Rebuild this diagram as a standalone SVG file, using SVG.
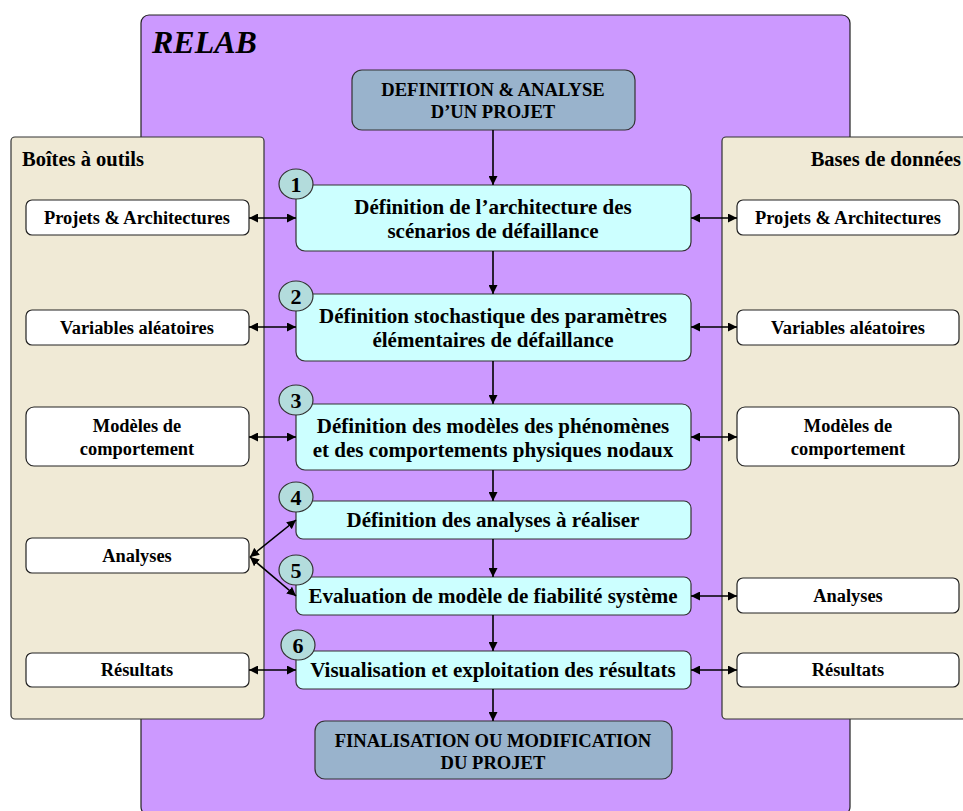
<svg xmlns="http://www.w3.org/2000/svg" width="963" height="811" viewBox="0 0 963 811">
<defs>
<marker id="ah" viewBox="0 0 10 10" refX="10" refY="5" markerWidth="9" markerHeight="9" markerUnits="userSpaceOnUse" orient="auto-start-reverse">
<path d="M0,0 L10,5 L0,10 z" fill="#000"/>
</marker>
<style>
.t{font-family:"Liberation Serif","Times New Roman",serif;font-weight:bold;fill:#000;text-anchor:middle}
.side{fill:#fff;stroke:#222;stroke-width:1.2}
.step{fill:#ccffff;stroke:#333;stroke-width:1.2}
.slate{fill:#99b3cc;stroke:#333;stroke-width:1.2}
.circ{fill:#b3dcdc;stroke:#333;stroke-width:1.2}
.panel{fill:#f0ead6;stroke:#333;stroke-width:1.2}
.c line,.c path{stroke:#000;stroke-width:1.6;fill:none}
.s14{font-size:18.4px}
.s17{font-size:21px}
.sd{font-size:18.6px}
.num{font-size:22px}
</style>
</defs>
<rect width="963" height="811" fill="#fff"/>
<g id="relab">
<rect x="141" y="15" width="709" height="800" rx="8" fill="#cc99ff" stroke="#222" stroke-width="1.2"/>
<text x="152" y="53" style="font-family:'Liberation Serif','Times New Roman',serif;font-weight:bold;font-style:italic;font-size:32px">RELAB</text>
</g>
<g id="toolbox">
<rect class="panel" x="11" y="137" width="253" height="582" rx="4"/>
<text x="22" y="166" style="font-family:'Liberation Serif','Times New Roman',serif;font-weight:bold;font-size:20.5px">Boîtes à outils</text>
</g>
<g id="databases">
<rect class="panel" x="722" y="137" width="260" height="582" rx="4"/>
<text x="961" y="166" text-anchor="end" style="font-family:'Liberation Serif','Times New Roman',serif;font-weight:bold;font-size:20.5px">Bases de données</text>
</g>
<g id="start">
<rect class="slate" x="352" y="70" width="283" height="60" rx="10"/>
<text class="t sd" x="493" y="96">DEFINITION &amp; ANALYSE</text>
<text class="t sd" x="493" y="118">D’UN PROJET</text>
</g>
<g id="step1">
<rect class="step" x="296" y="185" width="395" height="66" rx="9"/>
<text class="t s17" x="493" y="214">Définition de l’architecture des</text>
<text class="t s17" x="493" y="238">scénarios de défaillance</text>
<ellipse class="circ" cx="296" cy="184" rx="17" ry="15"/>
<text class="t num" x="296" y="192">1</text>
</g>
<g id="step2">
<rect class="step" x="296" y="294" width="395" height="67" rx="9"/>
<text class="t s17" x="493" y="323">Définition stochastique des paramètres</text>
<text class="t s17" x="493" y="347">élémentaires de défaillance</text>
<ellipse class="circ" cx="296" cy="296" rx="17" ry="15"/>
<text class="t num" x="296" y="304">2</text>
</g>
<g id="step3">
<rect class="step" x="296" y="404" width="395" height="66" rx="9"/>
<text class="t s17" x="493" y="433">Définition des modèles des phénomènes</text>
<text class="t s17" x="493" y="457">et des comportements physiques nodaux</text>
<ellipse class="circ" cx="296" cy="400" rx="17" ry="15"/>
<text class="t num" x="296" y="408">3</text>
</g>
<g id="step4">
<rect class="step" x="296" y="501" width="395" height="38" rx="7"/>
<text class="t s17" x="493" y="527">Définition des analyses à réaliser</text>
<ellipse class="circ" cx="296" cy="497" rx="17" ry="15"/>
<text class="t num" x="296" y="505">4</text>
</g>
<g id="step5">
<rect class="step" x="296" y="577" width="395" height="38" rx="7"/>
<text class="t s17" x="493" y="603">Evaluation de modèle de fiabilité système</text>
<ellipse class="circ" cx="296" cy="570" rx="17" ry="15"/>
<text class="t num" x="296" y="578">5</text>
</g>
<g id="step6">
<rect class="step" x="296" y="651" width="395" height="38" rx="7"/>
<text class="t s17" x="493" y="677">Visualisation et exploitation des résultats</text>
<ellipse class="circ" cx="298" cy="645" rx="17" ry="15"/>
<text class="t num" x="298" y="653">6</text>
</g>
<g id="end">
<rect class="slate" x="315" y="721" width="357" height="58" rx="10"/>
<text class="t sd" x="493" y="747">FINALISATION OU MODIFICATION</text>
<text class="t sd" x="493" y="769">DU PROJET</text>
</g>
<g id="tb-projets"><rect class="side" x="26" y="200" width="223" height="35" rx="6"/><text class="t s14" x="137" y="224">Projets &amp; Architectures</text></g>
<g id="tb-variables"><rect class="side" x="26" y="310" width="223" height="35" rx="6"/><text class="t s14" x="137" y="334">Variables aléatoires</text></g>
<g id="tb-modeles"><rect class="side" x="26" y="407" width="223" height="59" rx="8"/><text class="t s14" x="137" y="432">Modèles de</text><text class="t s14" x="137" y="455">comportement</text></g>
<g id="tb-analyses"><rect class="side" x="26" y="538" width="223" height="35" rx="6"/><text class="t s14" x="137" y="562">Analyses</text></g>
<g id="tb-resultats"><rect class="side" x="26" y="653" width="223" height="34" rx="6"/><text class="t s14" x="137" y="676">Résultats</text></g>
<g id="db-projets"><rect class="side" x="737" y="200" width="222" height="35" rx="6"/><text class="t s14" x="848" y="224">Projets &amp; Architectures</text></g>
<g id="db-variables"><rect class="side" x="737" y="310" width="222" height="35" rx="6"/><text class="t s14" x="848" y="334">Variables aléatoires</text></g>
<g id="db-modeles"><rect class="side" x="737" y="407" width="222" height="59" rx="8"/><text class="t s14" x="848" y="432">Modèles de</text><text class="t s14" x="848" y="455">comportement</text></g>
<g id="db-analyses"><rect class="side" x="737" y="578" width="222" height="35" rx="6"/><text class="t s14" x="848" y="602">Analyses</text></g>
<g id="db-resultats"><rect class="side" x="737" y="653" width="222" height="34" rx="6"/><text class="t s14" x="848" y="676">Résultats</text></g>
<g id="connectors" class="c">
<line x1="493" y1="130" x2="493" y2="185" marker-end="url(#ah)"/>
<line x1="493" y1="251" x2="493" y2="294" marker-end="url(#ah)"/>
<line x1="493" y1="361" x2="493" y2="404" marker-end="url(#ah)"/>
<line x1="493" y1="470" x2="493" y2="501" marker-end="url(#ah)"/>
<line x1="493" y1="539" x2="493" y2="577" marker-end="url(#ah)"/>
<line x1="493" y1="615" x2="493" y2="651" marker-end="url(#ah)"/>
<line x1="493" y1="689" x2="493" y2="721" marker-end="url(#ah)"/>
<line x1="249" y1="218" x2="296" y2="218" marker-start="url(#ah)" marker-end="url(#ah)"/>
<line x1="249" y1="327" x2="296" y2="327" marker-start="url(#ah)" marker-end="url(#ah)"/>
<line x1="249" y1="437" x2="296" y2="437" marker-start="url(#ah)" marker-end="url(#ah)"/>
<line x1="250" y1="557" x2="296" y2="520" marker-start="url(#ah)" marker-end="url(#ah)"/>
<line x1="250" y1="557" x2="296" y2="596" marker-start="url(#ah)" marker-end="url(#ah)"/>
<line x1="249" y1="670" x2="296" y2="670" marker-start="url(#ah)" marker-end="url(#ah)"/>
<line x1="691" y1="218" x2="737" y2="218" marker-start="url(#ah)" marker-end="url(#ah)"/>
<line x1="691" y1="327" x2="737" y2="327" marker-start="url(#ah)" marker-end="url(#ah)"/>
<line x1="691" y1="437" x2="737" y2="437" marker-start="url(#ah)" marker-end="url(#ah)"/>
<line x1="691" y1="596" x2="737" y2="596" marker-start="url(#ah)" marker-end="url(#ah)"/>
<line x1="691" y1="670" x2="737" y2="670" marker-start="url(#ah)" marker-end="url(#ah)"/>
</g>
</svg>
